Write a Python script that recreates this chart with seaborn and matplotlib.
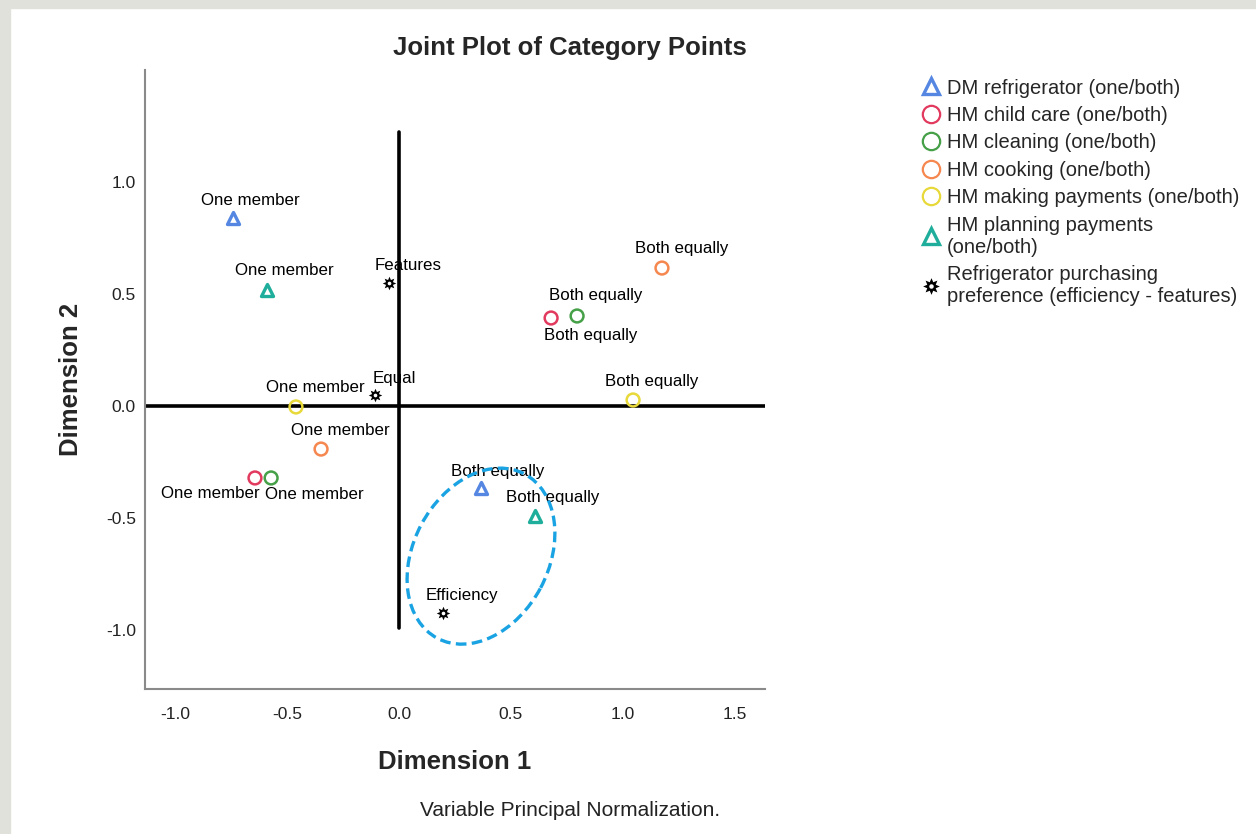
import numpy as np
import pandas as pd
import matplotlib
matplotlib.use("Agg")
import matplotlib.pyplot as plt
from matplotlib.path import Path
from matplotlib.patches import Ellipse, Rectangle
from matplotlib.lines import Line2D
import seaborn as sns

# ---- category point coordinates (Dimension 1, Dimension 2) ----
variables = [
    "DM refrigerator (one/both)",
    "HM child care (one/both)",
    "HM cleaning (one/both)",
    "HM cooking (one/both)",
    "HM making payments (one/both)",
    "HM planning payments\n(one/both)",
    "Refrigerator purchasing\npreference (efficiency - features)",
]
dm_refrigerator_dim1 = [-0.741, 0.366]
dm_refrigerator_dim2 = [0.839, -0.366]
child_care_dim1 = [-0.643, 0.679]
child_care_dim2 = [-0.321, 0.393]
cleaning_dim1 = [-0.571, 0.795]
cleaning_dim2 = [-0.321, 0.402]
cooking_dim1 = [-0.348, 1.174]
cooking_dim2 = [-0.192, 0.616]
making_payments_dim1 = [-0.460, 1.045]
making_payments_dim2 = [-0.004, 0.027]
planning_payments_dim1 = [-0.589, 0.607]
planning_payments_dim2 = [0.518, -0.491]
preference_dim1 = [0.196, -0.107, -0.045]
preference_dim2 = [-0.924, 0.049, 0.549]

household_categories = ["One member", "Both equally"]
preference_categories = ["Efficiency", "Equal", "Features"]

x_ticks = [-1.0, -0.5, 0.0, 0.5, 1.0, 1.5]
y_ticks = [-1.0, -0.5, 0.0, 0.5, 1.0]

rows = []
for var, xs, ys, cats in [
    (variables[0], dm_refrigerator_dim1, dm_refrigerator_dim2, household_categories),
    (variables[1], child_care_dim1, child_care_dim2, household_categories),
    (variables[2], cleaning_dim1, cleaning_dim2, household_categories),
    (variables[3], cooking_dim1, cooking_dim2, household_categories),
    (variables[4], making_payments_dim1, making_payments_dim2, household_categories),
    (variables[5], planning_payments_dim1, planning_payments_dim2, household_categories),
    (variables[6], preference_dim1, preference_dim2, preference_categories),
]:
    for x, y, c in zip(xs, ys, cats):
        rows.append({"variable": var, "category": c, "dim1": x, "dim2": y})
df = pd.DataFrame(rows)

# ---- styling ----
colors = {
    variables[0]: "#5587E2",
    variables[1]: "#E23A5E",
    variables[2]: "#45A047",
    variables[3]: "#F5874F",
    variables[4]: "#E8D93A",
    variables[5]: "#1FAE9B",
    variables[6]: "#000000",
}

# eight-pointed star with a hollow centre
n_pts = 8
ang = np.linspace(0, 2 * np.pi, 2 * n_pts, endpoint=False) + np.pi / 2
rad = np.tile([1.0, 0.55], n_pts)
outer = np.column_stack([rad * np.cos(ang), rad * np.sin(ang)])
ht = np.linspace(0, 2 * np.pi, 24, endpoint=False)
hole = np.column_stack([0.27 * np.cos(-ht), 0.27 * np.sin(-ht)])
star_verts = np.vstack([outer, outer[:1], hole, hole[:1]])
star_codes = ([Path.MOVETO] + [Path.LINETO] * (len(outer) - 1) + [Path.CLOSEPOLY]
              + [Path.MOVETO] + [Path.LINETO] * (len(hole) - 1) + [Path.CLOSEPOLY])
star_marker = Path(star_verts, star_codes)

markers = {v: "o" for v in variables}
markers[variables[0]] = "^"
markers[variables[5]] = "^"
markers[variables[6]] = star_marker

# label offsets in pixels (dx, dy), keyed by (variable index, category)
label_offsets = {
    (0, "One member"): (17, 18), (0, "Both equally"): (17, 17),
    (1, "One member"): (-45, -16), (1, "Both equally"): (40, -17),
    (2, "One member"): (43, -17), (2, "Both equally"): (19, 20),
    (3, "One member"): (19, 19), (3, "Both equally"): (20, 20),
    (4, "One member"): (19, 19), (4, "Both equally"): (19, 18),
    (5, "One member"): (17, 19), (5, "Both equally"): (18, 19),
    (6, "Efficiency"): (19, 18), (6, "Equal"): (19, 17), (6, "Features"): (19, 18),
}

sns.set_style("white")
plt.rcParams["font.family"] = ["Liberation Sans", "DejaVu Sans"]

fig = plt.figure(figsize=(12.56, 8.34), dpi=100)
fig.patch.set_facecolor("white")
# grey frame strips along the top and left edge
fig.patches.append(Rectangle((0, 0), 10 / 1256, 1, transform=fig.transFigure,
                             color="#E1E1DC", zorder=0))
fig.patches.append(Rectangle((0, 1 - 8 / 834), 1, 8 / 834, transform=fig.transFigure,
                             color="#E1E1DC", zorder=0))

ax = fig.add_axes([145 / 1256, 1 - 689 / 834, 620 / 1256, 619 / 834])
ax.set_xlim(-1.134, 1.634)
ax.set_ylim(-1.263, 1.500)

# reference axes through the origin
ax.axhline(0, color="black", lw=2.6, zorder=1)
ax.plot([0, 0], [-0.991, 1.223], color="black", lw=2.6, zorder=1)

for i, var in enumerate(variables):
    sub = df[df["variable"] == var]
    col = colors[var]
    if i == 6:
        sns.scatterplot(data=sub, x="dim1", y="dim2", marker=star_marker, s=95,
                        color=col, linewidth=0, ax=ax, zorder=3)
    elif markers[var] == "^":
        sns.scatterplot(data=sub, x="dim1", y="dim2", marker="^", s=75,
                        facecolors="white", edgecolors=col, linewidths=2.4,
                        ax=ax, zorder=3)
    else:
        sns.scatterplot(data=sub, x="dim1", y="dim2", marker="o", s=85,
                        facecolors="none", edgecolors=col, linewidths=1.8,
                        ax=ax, zorder=3)
    for _, r in sub.iterrows():
        dx, dy = label_offsets[(i, r["category"])]
        ax.annotate(r["category"], (r["dim1"], r["dim2"]), xytext=(dx, dy),
                    textcoords="offset pixels", ha="center", va="center",
                    fontsize=12.2, color="black", zorder=4)

# highlight ring around the "both equally" / efficiency group
ax.add_patch(Ellipse((0.366, -0.670), 0.830, 0.603, angle=62, fill=False,
                     edgecolor="#1AA3E3", lw=2.4, linestyle=(0, (3.2, 1.6)),
                     zorder=5))

ax.set_xticks(x_ticks)
ax.set_yticks(y_ticks)
ax.set_xticklabels([f"{t:.1f}" for t in x_ticks])
ax.set_yticklabels([f"{t:.1f}" for t in y_ticks])
ax.tick_params(axis="both", length=0, labelsize=12.5, colors="#222222")
ax.tick_params(axis="x", pad=13)
ax.tick_params(axis="y", pad=6.5)
for side in ["top", "right"]:
    ax.spines[side].set_visible(False)
for side in ["left", "bottom"]:
    ax.spines[side].set_color("#8A8A8A")
    ax.spines[side].set_linewidth(1.5)

ax.set_xlabel("Dimension 1", fontsize=18.5, fontweight="bold", labelpad=20)
ax.set_ylabel("Dimension 2", fontsize=18.5, fontweight="bold", labelpad=16.5)

fig.text(570 / 1256, 1 - 48 / 834, "Joint Plot of Category Points",
         ha="center", va="center", fontsize=18.5, fontweight="bold")
fig.text(570 / 1256, 1 - 810 / 834, "Variable Principal Normalization.",
         ha="center", va="center", fontsize=15, color="#222222")

handles = []
for var in variables:
    col = colors[var]
    if var == variables[6]:
        h = Line2D([], [], marker=star_marker, color=col, linestyle="none",
                   markersize=12, markeredgewidth=0)
    elif markers[var] == "^":
        h = Line2D([], [], marker="^", markerfacecolor="white", markeredgecolor=col,
                   linestyle="none", markersize=11, markeredgewidth=2.4)
    else:
        h = Line2D([], [], marker="o", markerfacecolor="none", markeredgecolor=col,
                   linestyle="none", markersize=12.5, markeredgewidth=1.6)
    handles.append(h)

fig.legend(handles, variables, loc="upper left",
           bbox_to_anchor=(921 / 1256, 1 - 78.5 / 834), frameon=False,
           fontsize=14.5, handlelength=1.0, handletextpad=0.3,
           labelspacing=0.42, borderpad=0, borderaxespad=0,
           handleheight=0.8)

fig.savefig("out.png", dpi=100)
